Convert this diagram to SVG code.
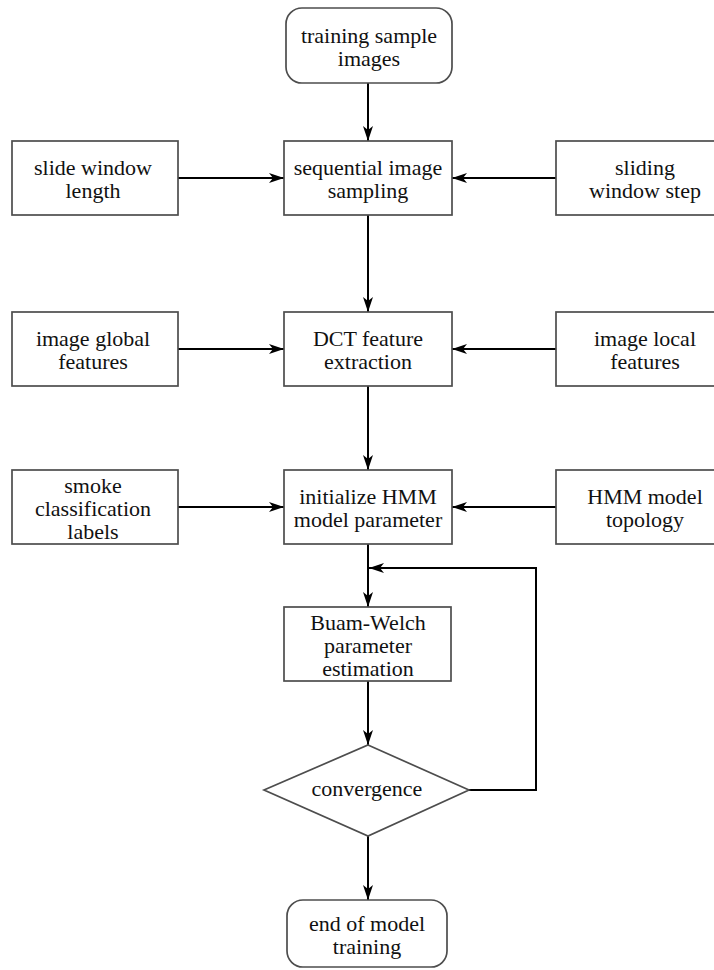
<svg xmlns="http://www.w3.org/2000/svg" width="714" height="970" viewBox="0 0 714 970">
<style>
.box{fill:#fff;stroke:#4d4d4d;stroke-width:1.7}
.t{font-family:"Liberation Serif","Times New Roman",serif;font-size:22px;fill:#111;text-anchor:middle}
.c{fill:none;stroke:#000;stroke-width:2}
</style>
<defs>
<marker id="ah" markerUnits="userSpaceOnUse" markerWidth="16" markerHeight="12" refX="15" refY="5" orient="auto">
<path d="M0,0 L15,5 L0,10 L4,5 z" fill="#000"/>
</marker>
</defs>
<rect width="714" height="970" fill="#fff"/>
<g id="connectors">
<line class="c" x1="368" y1="83" x2="368" y2="141" marker-end="url(#ah)"/>
<line class="c" x1="178" y1="178" x2="284" y2="178" marker-end="url(#ah)"/>
<line class="c" x1="556" y1="178" x2="452" y2="178" marker-end="url(#ah)"/>
<line class="c" x1="368" y1="215" x2="368" y2="312" marker-end="url(#ah)"/>
<line class="c" x1="178" y1="349" x2="284" y2="349" marker-end="url(#ah)"/>
<line class="c" x1="556" y1="349" x2="452" y2="349" marker-end="url(#ah)"/>
<line class="c" x1="368" y1="386" x2="368" y2="470" marker-end="url(#ah)"/>
<line class="c" x1="178" y1="507" x2="284" y2="507" marker-end="url(#ah)"/>
<line class="c" x1="556" y1="507" x2="452" y2="507" marker-end="url(#ah)"/>
<line class="c" x1="368" y1="544" x2="368" y2="607" marker-end="url(#ah)"/>
<line class="c" x1="368" y1="681" x2="368" y2="745" marker-end="url(#ah)"/>
<polyline class="c" points="469,790 536,790 536,568 369,568" marker-end="url(#ah)"/>
<line class="c" x1="368" y1="836" x2="368" y2="900" marker-end="url(#ah)"/>
</g>
<g id="n-train">
<rect class="box" x="286" y="8" width="166" height="75" rx="16"/>
<text class="t" x="369" y="43">training sample</text>
<text class="t" x="369" y="66">images</text>
</g>
<g id="n-slide">
<rect class="box" x="12" y="141" width="166" height="74"/>
<text class="t" x="93" y="175">slide window</text>
<text class="t" x="93" y="198">length</text>
</g>
<g id="n-seq">
<rect class="box" x="284" y="141" width="168" height="74"/>
<text class="t" x="368" y="175">sequential image</text>
<text class="t" x="368" y="198">sampling</text>
</g>
<g id="n-step">
<rect class="box" x="556" y="141" width="170" height="74"/>
<text class="t" x="645" y="175">sliding</text>
<text class="t" x="645" y="198">window step</text>
</g>
<g id="n-global">
<rect class="box" x="12" y="312" width="166" height="74"/>
<text class="t" x="93" y="346">image global</text>
<text class="t" x="93" y="369">features</text>
</g>
<g id="n-dct">
<rect class="box" x="284" y="312" width="168" height="74"/>
<text class="t" x="368" y="346">DCT feature</text>
<text class="t" x="368" y="369">extraction</text>
</g>
<g id="n-local">
<rect class="box" x="556" y="312" width="170" height="74"/>
<text class="t" x="645" y="346">image local</text>
<text class="t" x="645" y="369">features</text>
</g>
<g id="n-labels">
<rect class="box" x="12" y="470" width="166" height="74"/>
<text class="t" x="93" y="493">smoke</text>
<text class="t" x="93" y="516">classification</text>
<text class="t" x="93" y="539">labels</text>
</g>
<g id="n-init">
<rect class="box" x="284" y="470" width="168" height="74"/>
<text class="t" x="368" y="504">initialize HMM</text>
<text class="t" x="368" y="527">model parameter</text>
</g>
<g id="n-topo">
<rect class="box" x="556" y="470" width="170" height="74"/>
<text class="t" x="645" y="504">HMM model</text>
<text class="t" x="645" y="527">topology</text>
</g>
<g id="n-bw">
<rect class="box" x="284" y="607" width="167" height="74"/>
<text class="t" x="368" y="630">Buam-Welch</text>
<text class="t" x="368" y="653">parameter</text>
<text class="t" x="368" y="676">estimation</text>
</g>
<g id="n-conv">
<polygon class="box" points="368,745 469,790 368,836 264,790"/>
<text class="t" x="367" y="796">convergence</text>
</g>
<g id="n-end">
<rect class="box" x="287" y="900" width="160" height="67" rx="16"/>
<text class="t" x="367" y="931">end of model</text>
<text class="t" x="367" y="954">training</text>
</g>
</svg>
